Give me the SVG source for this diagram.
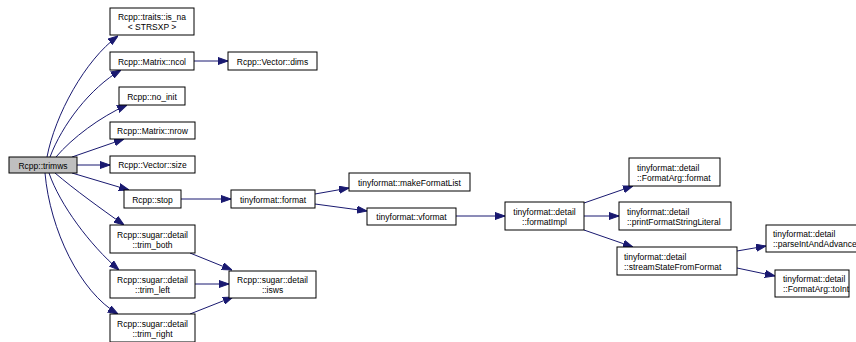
<svg xmlns="http://www.w3.org/2000/svg" width="856" height="342" viewBox="0 0 856 342">
  <style>
    .node rect { fill: #ffffff; stroke: #000000; stroke-width: 1; }
    .root rect { fill: #bfbfbf; }
    text { font-family: "Liberation Sans", Arial, Helvetica, sans-serif; font-size: 8.5px; fill: #000000; }
    .c { text-anchor: middle; }
    .edges path { fill: none; stroke: #191970; stroke-width: 1; marker-end: url(#arrow); }
  </style>
  <defs>
    <marker id="arrow" markerWidth="10" markerHeight="8" refX="10" refY="4" orient="auto" markerUnits="userSpaceOnUse">
      <path d="M0,0.5 L10,4 L0,7.5 z" fill="#191970" stroke="#191970" stroke-width="1"/>
    </marker>
  </defs>
  <rect width="856" height="342" fill="#ffffff"/>

  <g class="edges">
    <path d="M47,157 C55,115 85,60 118,36"/>
    <path d="M50,157 C62,125 90,88 121,70"/>
    <path d="M56,157 C72,138 100,117 127,105"/>
    <path d="M72,157 L124,139"/>
    <path d="M77,165 L110,165"/>
    <path d="M72,173 L129,190"/>
    <path d="M55,173 C75,190 100,208 124,225"/>
    <path d="M49,173 C60,205 90,245 119,270"/>
    <path d="M45,173 C50,230 80,292 118,314"/>
    <path d="M194,61 L228,61"/>
    <path d="M181,199 L231,199"/>
    <path d="M315,194 L349,188"/>
    <path d="M315,204 L367,211"/>
    <path d="M456,216 L505,216"/>
    <path d="M584,203 L633,186"/>
    <path d="M584,216 L619,216"/>
    <path d="M584,230 L633,247"/>
    <path d="M737,251 L766,246"/>
    <path d="M737,268 L775,276"/>
    <path d="M190,253 L232,270"/>
    <path d="M195,284 L229,284"/>
    <path d="M190,314 L233,297"/>
  </g>

  <g id="node-trimws" class="node root">
    <rect x="9" y="157" width="68" height="16"/>
    <text class="c" x="43" y="168.5">Rcpp::trimws</text>
  </g>
  <g id="node-is_na" class="node">
    <rect x="110" y="8" width="84" height="27"/>
    <text class="c" x="152" y="20">Rcpp::traits::is_na</text>
    <text class="c" x="152" y="30">&lt; STRSXP &gt;</text>
  </g>
  <g id="node-ncol" class="node">
    <rect x="110" y="52" width="84" height="18"/>
    <text class="c" x="152" y="64.5">Rcpp::Matrix::ncol</text>
  </g>
  <g id="node-dims" class="node">
    <rect x="228" y="52" width="89" height="18"/>
    <text class="c" x="272.5" y="64.5">Rcpp::Vector::dims</text>
  </g>
  <g id="node-no_init" class="node">
    <rect x="119" y="87" width="66" height="18"/>
    <text class="c" x="152" y="99.5">Rcpp::no_init</text>
  </g>
  <g id="node-nrow" class="node">
    <rect x="110" y="122" width="85" height="17"/>
    <text class="c" x="152.5" y="134">Rcpp::Matrix::nrow</text>
  </g>
  <g id="node-size" class="node">
    <rect x="110" y="156" width="85" height="17"/>
    <text class="c" x="152.5" y="168">Rcpp::Vector::size</text>
  </g>
  <g id="node-stop" class="node">
    <rect x="124" y="190" width="57" height="18"/>
    <text class="c" x="152.5" y="202.5">Rcpp::stop</text>
  </g>
  <g id="node-format" class="node">
    <rect x="231" y="190" width="84" height="18"/>
    <text class="c" x="273" y="202.5">tinyformat::format</text>
  </g>
  <g id="node-makeFormatList" class="node">
    <rect x="349" y="173" width="121" height="18"/>
    <text class="c" x="409.5" y="185.5">tinyformat::makeFormatList</text>
  </g>
  <g id="node-vformat" class="node">
    <rect x="367" y="208" width="89" height="17"/>
    <text class="c" x="411.5" y="220">tinyformat::vformat</text>
  </g>
  <g id="node-formatImpl" class="node">
    <rect x="505" y="202" width="79" height="28"/>
    <text class="c" x="544.5" y="214.5">tinyformat::detail</text>
    <text class="c" x="544.5" y="224.5">::formatImpl</text>
  </g>
  <g id="node-FormatArg-format" class="node">
    <rect x="629" y="158" width="91" height="28"/>
    <text x="637" y="170.5">tinyformat::detail</text>
    <text x="637" y="180.5">::FormatArg::format</text>
  </g>
  <g id="node-printFormatStringLiteral" class="node">
    <rect x="619" y="202" width="112" height="28"/>
    <text x="627" y="214.5">tinyformat::detail</text>
    <text x="627" y="224.5">::printFormatStringLiteral</text>
  </g>
  <g id="node-streamStateFromFormat" class="node">
    <rect x="617" y="247" width="120" height="28"/>
    <text x="624" y="259.5">tinyformat::detail</text>
    <text x="624" y="269.5">::streamStateFromFormat</text>
  </g>
  <g id="node-parseIntAndAdvance" class="node">
    <rect x="766" y="225" width="100" height="27"/>
    <text x="773" y="237">tinyformat::detail</text>
    <text x="773" y="247">::parseIntAndAdvance</text>
  </g>
  <g id="node-toInt" class="node">
    <rect x="775" y="270" width="74" height="27"/>
    <text x="783" y="282">tinyformat::detail</text>
    <text x="783" y="292">::FormatArg::toInt</text>
  </g>
  <g id="node-trim_both" class="node">
    <rect x="110" y="225" width="85" height="28"/>
    <text class="c" x="152.5" y="237.5">Rcpp::sugar::detail</text>
    <text class="c" x="152.5" y="247.5">::trim_both</text>
  </g>
  <g id="node-trim_left" class="node">
    <rect x="110" y="270" width="85" height="28"/>
    <text class="c" x="152.5" y="282.5">Rcpp::sugar::detail</text>
    <text class="c" x="152.5" y="292.5">::trim_left</text>
  </g>
  <g id="node-trim_right" class="node">
    <rect x="110" y="314" width="85" height="28"/>
    <text class="c" x="152.5" y="326.5">Rcpp::sugar::detail</text>
    <text class="c" x="152.5" y="336.5">::trim_right</text>
  </g>
  <g id="node-isws" class="node">
    <rect x="229" y="271" width="87" height="27"/>
    <text class="c" x="272.5" y="283">Rcpp::sugar::detail</text>
    <text class="c" x="272.5" y="293">::isws</text>
  </g>
</svg>
